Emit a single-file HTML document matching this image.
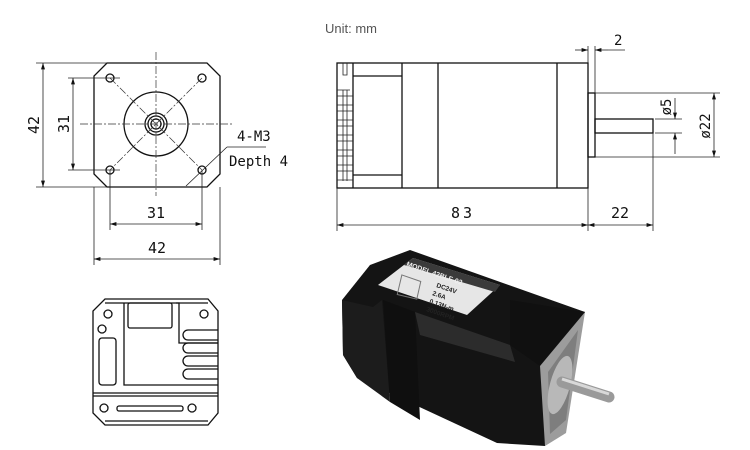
<!DOCTYPE html>
<html><head><meta charset="utf-8"><style>
body{margin:0;background:#fff;width:750px;height:450px;overflow:hidden}
svg{display:block}
.l{stroke:#111;fill:none;stroke-width:1.3}
.t{stroke:#222;fill:none;stroke-width:0.8}
.c{stroke:#333;fill:none;stroke-width:0.7;stroke-dasharray:8 2 2 2}
text{font-family:"DejaVu Sans Mono","Liberation Mono",monospace;fill:#111;font-size:15px}
</style></head><body>
<svg width="750" height="450" viewBox="0 0 750 450">
<defs><marker id="a" markerWidth="8" markerHeight="6" refX="8" refY="3" orient="auto-start-reverse"><path d="M0,0.5 L8,3 L0,5.5 z" fill="#111"/></marker></defs>
<text x="325" y="33" style="font-family:'Liberation Sans',sans-serif;font-size:13px;fill:#555">Unit: mm</text>

<!-- Front view -->
<polygon class="l" points="107,63 207,63 220,76 220,174 207,187 107,187 94,174 94,76"/>
<g class="l" stroke-width="1.1"><circle cx="110" cy="78" r="4"/><circle cx="202" cy="78" r="4"/><circle cx="110" cy="170" r="4"/><circle cx="202" cy="170" r="4"/>
<circle cx="156" cy="124" r="32"/><circle cx="156" cy="124" r="11"/><circle cx="156" cy="124" r="8"/><circle cx="156" cy="124" r="5"/></g>
<g class="c"><line x1="156" y1="52" x2="156" y2="196"/><line x1="80" y1="124" x2="232" y2="124"/><line x1="110" y1="78" x2="202" y2="170"/><line x1="202" y1="78" x2="110" y2="170"/></g>
<g class="t"><line x1="36" y1="63" x2="107" y2="63"/><line x1="36" y1="187" x2="107" y2="187"/><line x1="43" y1="63" x2="43" y2="187" marker-start="url(#a)" marker-end="url(#a)"/>
<line x1="68" y1="78" x2="120" y2="78"/><line x1="68" y1="170" x2="120" y2="170"/><line x1="73" y1="78" x2="73" y2="170" marker-start="url(#a)" marker-end="url(#a)"/>
<line x1="110" y1="170" x2="110" y2="230"/><line x1="202" y1="170" x2="202" y2="230"/><line x1="110" y1="224" x2="202" y2="224" marker-start="url(#a)" marker-end="url(#a)"/>
<line x1="94" y1="187" x2="94" y2="265"/><line x1="220" y1="187" x2="220" y2="265"/><line x1="94" y1="259" x2="220" y2="259" marker-start="url(#a)" marker-end="url(#a)"/>
<line x1="266" y1="147" x2="227" y2="147"/><line x1="227" y1="147" x2="186" y2="186"/></g>
<text transform="translate(39,125) rotate(-90)" text-anchor="middle">42</text>
<text transform="translate(69,124) rotate(-90)" text-anchor="middle">31</text>
<text x="156" y="218" text-anchor="middle">31</text>
<text x="157" y="253" text-anchor="middle">42</text>
<text x="237" y="141" style="font-size:14px">4-M3</text>
<text x="229" y="166" style="font-size:14px">Depth 4</text>

<!-- Side view -->
<rect class="l" x="337" y="63" width="251" height="125"/>
<g class="l"><line x1="353" y1="63" x2="353" y2="188"/><line x1="402" y1="63" x2="402" y2="188"/><line x1="438" y1="63" x2="438" y2="188"/><line x1="557" y1="63" x2="557" y2="188"/>
<line x1="353" y1="76" x2="402" y2="76"/><line x1="353" y1="175" x2="402" y2="175"/>
<rect x="588" y="93" width="7" height="64"/><rect x="595" y="119" width="58" height="14"/></g>
<g class="t" stroke-width="0.8">
<path d="M343,63v12h4v-12 M337,90h13 M337,96h16 M337,105h16 M337,111h16 M337,120h16 M337,126h16 M337,135h16 M337,141h16 M337,150h16 M337,156h16 M337,165h16 M337,171h16 M337,180h16 M343,90v91 M347,90v91"/></g>
<g class="t"><line x1="588" y1="63" x2="588" y2="46"/><line x1="595" y1="93" x2="595" y2="46"/><line x1="575" y1="50" x2="588" y2="50" marker-end="url(#a)"/><line x1="608" y1="50" x2="595" y2="50" marker-end="url(#a)"/><line x1="608" y1="50" x2="625" y2="50"/>
<line x1="595" y1="93" x2="720" y2="93"/><line x1="595" y1="157" x2="720" y2="157"/><line x1="714" y1="93" x2="714" y2="157" marker-start="url(#a)" marker-end="url(#a)"/>
<line x1="655" y1="119" x2="682" y2="119"/><line x1="655" y1="133" x2="682" y2="133"/><line x1="675" y1="98" x2="675" y2="119" marker-end="url(#a)"/><line x1="675" y1="154" x2="675" y2="133" marker-end="url(#a)"/>
<line x1="337" y1="188" x2="337" y2="231"/><line x1="588" y1="188" x2="588" y2="231"/><line x1="653" y1="133" x2="653" y2="231"/>
<line x1="337" y1="225" x2="588" y2="225" marker-start="url(#a)" marker-end="url(#a)"/><line x1="588" y1="225" x2="653" y2="225" marker-start="url(#a)" marker-end="url(#a)"/></g>
<text x="614" y="45" style="font-size:14px">2</text>
<text transform="translate(710,126) rotate(-90)" text-anchor="middle" style="font-size:14px">ø22</text>
<text transform="translate(671,107) rotate(-90)" text-anchor="middle" style="font-size:14px">ø5</text>
<text x="463" y="218" text-anchor="middle" letter-spacing="3">83</text>
<text x="620" y="218" text-anchor="middle">22</text>

<!-- Bottom-left back view -->
<g class="l" stroke-width="1.1">
<polygon points="105,299 208,299 218,311 218,413 208,425 105,425 93,413 93,311"/>
<line x1="105" y1="303" x2="208" y2="303"/><line x1="105" y1="421" x2="208" y2="421"/>
<rect x="128" y="303" width="44" height="25" rx="2"/>
<path d="M176,303 h3 v40 h39"/>
<rect x="99" y="338" width="17" height="47" rx="3"/>
<circle cx="108" cy="314" r="4"/><circle cx="204" cy="314" r="4"/><circle cx="102" cy="329" r="4"/>
<circle cx="104" cy="408" r="4"/><circle cx="192" cy="408" r="4"/>
<rect x="117" y="406" width="66" height="5" rx="2"/>
<path d="M124,303 V385 H218 M93,393 H218 M93,396 H218"/>
<path d="M218,330 h-30 a5,5 0 0 0 0,10 h30 M218,343 h-30 a5,5 0 0 0 0,10 h30 M218,356 h-30 a5,5 0 0 0 0,10 h30 M218,369 h-30 a5,5 0 0 0 0,10 h30"/>
</g>

<!-- Photo approximation -->
<g>
<polygon points="342,300 370,265 410,250 585,312 545,446 497,443 357,378 343,355" fill="#141414"/>
<polygon points="342,300 373,307 382,300 390,402 357,378 343,355" fill="#1c1c1c"/>
<polygon points="383,300 415,312 420,420 390,402" fill="#0f0f0f"/>
<polygon points="415,312 510,345 515,362 420,335" fill="#2c2c2c"/>
<polygon points="510,300 585,312 540,366 510,345" fill="#101010"/>
<polygon points="540,366 585,312 566,433 545,446" fill="#9c9c9c"/>
<polygon points="548,372 578,330 566,420 550,434" fill="#7e7e7e"/>
<ellipse cx="560" cy="385" rx="10" ry="30" fill="#b8b8b8" transform="rotate(15 560 385)"/>
<polygon points="378,285 413,258 500,285 467,315" fill="#e6e6e6"/>
<polygon points="404,265 413,258 500,285 495,292" fill="#3a3a3a"/>
<text transform="translate(406,266) rotate(19)" style="font-family:'Liberation Sans',sans-serif;font-size:7px;fill:#eee;font-weight:bold">MODEL 42BLF-02</text>
<polygon points="398,278 418,278 420,296 400,298" fill="none" stroke="#777" stroke-width="1" transform="rotate(19 409 288)"/>
<text transform="translate(436,287) rotate(19)" style="font-family:'Liberation Sans',sans-serif;font-size:6.5px;fill:#222;font-weight:bold">DC24V</text>
<text transform="translate(432,295) rotate(19)" style="font-family:'Liberation Sans',sans-serif;font-size:6.5px;fill:#222;font-weight:bold">2.6A</text>
<text transform="translate(429,303) rotate(19)" style="font-family:'Liberation Sans',sans-serif;font-size:6.5px;fill:#222;font-weight:bold">0.13N-m</text>
<text transform="translate(426,311) rotate(19)" style="font-family:'Liberation Sans',sans-serif;font-size:6.5px;fill:#222;font-weight:bold">3000RPM</text>
<line x1="562" y1="382" x2="609" y2="397" stroke="#9a9a9a" stroke-width="11" stroke-linecap="round"/>
<line x1="562" y1="379" x2="609" y2="394" stroke="#d8d8d8" stroke-width="3"/>
</g>
</svg>
</body></html>
